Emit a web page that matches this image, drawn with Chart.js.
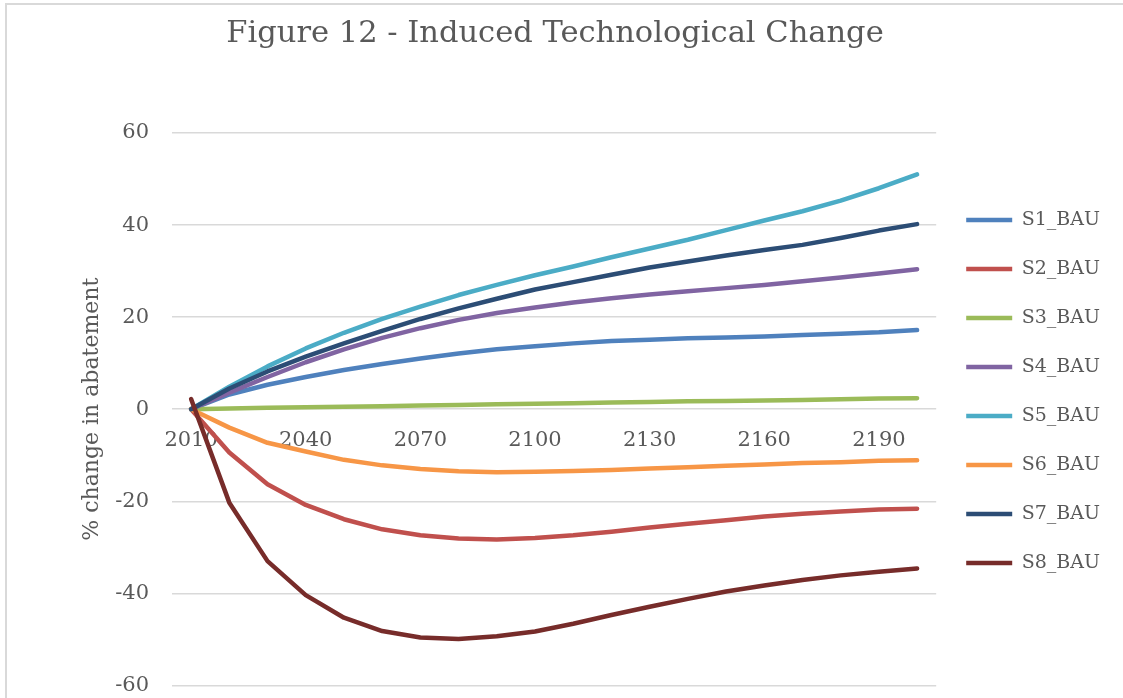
<!DOCTYPE html>
<html>
<head>
<meta charset="utf-8">
<script src="https://cdn.jsdelivr.net/npm/chart.js@4/dist/chart.umd.min.js"></script>
<style>
  html, body { margin: 0; padding: 0; background: #fff; overflow: hidden; }
  #frame { position: absolute; left: 5px; top: 3px; width: 1200px; height: 800px; border: 2px solid #d9d9d9; }
  #wrap { position: absolute; left: 0; top: 0; width: 1123px; height: 721px; }
</style>
</head>
<body>
<div id="frame"></div>
<div id="wrap"><canvas id="grafico"></canvas></div>
<script>
const anos = [2010, 2020, 2030, 2040, 2050, 2060, 2070, 2080, 2090, 2100,
              2110, 2120, 2130, 2140, 2150, 2160, 2170, 2180, 2190, 2200];

const s1 = [0, 3.2, 5.3, 7.0, 8.5, 9.8, 11.0, 12.1, 13.0, 13.7, 14.3, 14.8, 15.1, 15.4, 15.6, 15.8, 16.1, 16.4, 16.7, 17.2];
const s2 = [0, -9.4, -16.3, -20.8, -23.9, -26.1, -27.4, -28.1, -28.3, -28.0, -27.4, -26.6, -25.7, -24.9, -24.1, -23.3, -22.7, -22.2, -21.8, -21.6];
const s3 = [0, 0.15, 0.3, 0.4, 0.55, 0.65, 0.8, 0.9, 1.05, 1.2, 1.3, 1.45, 1.55, 1.7, 1.8, 1.9, 2.0, 2.15, 2.3, 2.4];
const s4 = [0, 3.6, 7.0, 10.2, 13.0, 15.5, 17.6, 19.4, 20.9, 22.1, 23.2, 24.1, 24.9, 25.6, 26.3, 27.0, 27.8, 28.6, 29.5, 30.4];
const s5 = [0, 4.9, 9.3, 13.2, 16.6, 19.6, 22.3, 24.8, 27.0, 29.1, 31.0, 33.0, 34.9, 36.8, 38.9, 41.0, 43.0, 45.3, 48.0, 51.0];
const s6 = [0, -4.0, -7.3, -9.2, -11.0, -12.2, -13.0, -13.5, -13.7, -13.6, -13.4, -13.2, -12.9, -12.6, -12.3, -12.0, -11.7, -11.5, -11.2, -11.1];
const s7 = [0, 4.5, 8.2, 11.4, 14.3, 17.0, 19.6, 21.9, 24.0, 26.0, 27.6, 29.2, 30.8, 32.1, 33.4, 34.6, 35.7, 37.2, 38.8, 40.2];
const s8 = [2.2, -20.3, -33.0, -40.4, -45.3, -48.2, -49.6, -49.9, -49.3, -48.3, -46.6, -44.7, -42.9, -41.2, -39.6, -38.3, -37.1, -36.1, -35.3, -34.6];

const nomes = ['S1_BAU', 'S2_BAU', 'S3_BAU', 'S4_BAU', 'S5_BAU', 'S6_BAU', 'S7_BAU', 'S8_BAU'];
const series = [s1, s2, s3, s4, s5, s6, s7, s8];
const cores = ['#4F81BD', '#C0504D', '#9BBB59', '#8064A2', '#4BACC6', '#F79646', '#2C4D75', '#772C2A'];

Chart.defaults.font.family = "'DejaVu Serif', serif";
Chart.defaults.color = '#595959';

// S8 por cima, como no Excel (order menor desenha por cima)
const datasets = series.map((dados, i) => ({
  label: nomes[i],
  data: dados,
  borderColor: cores[i],
  backgroundColor: cores[i],
  borderWidth: 4.5,
  borderCapStyle: 'round',
  borderJoinStyle: 'round',
  pointRadius: 0,
  tension: 0,
  order: series.length - i
}));

new Chart(document.getElementById('grafico'), {
  type: 'line',
  data: { labels: anos, datasets },
  options: {
    responsive: true,
    maintainAspectRatio: false,
    animation: false,
    layout: { padding: { top: 0, left: 0, right: 13, bottom: 13 } },
    plugins: {
      tooltip: { enabled: false },
      title: {
        display: true,
        text: 'Figure 12 - Induced Technological Change',
        font: { size: 30.5, weight: 'normal' },
        color: '#595959',
        padding: { top: 16, bottom: 80.4 }
      },
      legend: {
        position: 'right',
        title: { display: true, text: ' ', font: { size: 19 }, padding: { top: 52, bottom: 0 } },
        labels: {
          usePointStyle: true,
          pointStyle: 'line',
          pointStyleWidth: 46,
          padding: 30,
          font: { size: 19 },
          color: '#595959',
          sort: (a, b) => a.datasetIndex - b.datasetIndex
        }
      }
    },
    scales: {
      x: {
        position: { y: 0 },
        offset: true,
        grid: { display: false, drawTicks: false },
        border: { display: false },
        ticks: {
          autoSkip: false,
          maxRotation: 0,
          padding: 19,
          font: { size: 21 },
          callback: (v, i) => (i % 3 === 0 ? anos[i] : '')
        },
        afterFit: s => { s.height = 0; }
      },
      y: {
        min: -60,
        max: 60,
        grid: { color: '#d9d9d9', lineWidth: 1.5, drawTicks: false },
        border: { display: false },
        ticks: { stepSize: 20, padding: 23, font: { size: 21 } },
        title: {
          display: true,
          text: '% change in abatement',
          font: { size: 22 },
          color: '#595959',
          padding: { top: 79, bottom: 0 }
        },
        afterFit: s => { s.width = 172; }
      }
    }
  }
});
</script>
</body>
</html>
